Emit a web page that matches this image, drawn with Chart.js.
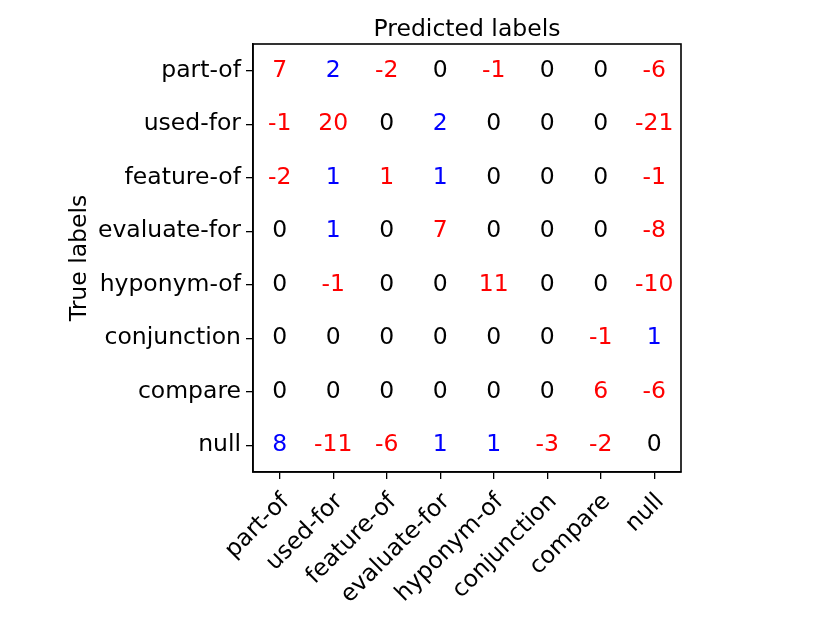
<!DOCTYPE html>
<html>
<head>
<meta charset="utf-8">
<script src="https://cdn.jsdelivr.net/npm/chart.js@4"></script>
<style>
  html, body { margin: 0; padding: 0; background: #fff; }
  #wrap { width: 830px; height: 623px; }
</style>
</head>
<body>
<div id="wrap"><canvas id="chart" width="830" height="623"></canvas></div>
<script>
// relation labels (same order on both axes)
const labels = ['part-of', 'used-for', 'feature-of', 'evaluate-for', 'hyponym-of', 'conjunction', 'compare', 'null'];

// one row per true label, columns = predicted label
const rowPartOf      = [7, 2, -2, 0, -1, 0, 0, -6];
const rowUsedFor     = [-1, 20, 0, 2, 0, 0, 0, -21];
const rowFeatureOf   = [-2, 1, 1, 1, 0, 0, 0, -1];
const rowEvaluateFor = [0, 1, 0, 7, 0, 0, 0, -8];
const rowHyponymOf   = [0, -1, 0, 0, 11, 0, 0, -10];
const rowConjunction = [0, 0, 0, 0, 0, 0, -1, 1];
const rowCompare     = [0, 0, 0, 0, 0, 0, 6, -6];
const rowNull        = [8, -11, -6, 1, 1, -3, -2, 0];

const matrix = [rowPartOf, rowUsedFor, rowFeatureOf, rowEvaluateFor, rowHyponymOf, rowConjunction, rowCompare, rowNull];

const FONT = 'DejaVu Sans';
const FS = 23.5;

// build points from the matrix
const cells = [];
matrix.forEach((row, r) => {
    row.forEach((v, c) => {
        cells.push({ x: c, y: r, v: v });
    });
});

function cellColor(p) {
    if (p.v === 0) return '#000000';
    if (p.v < 0 || p.x === p.y) return '#ff0000';
    return '#0000ff';
}

// draws the numbers in each cell + the frame
const cellText = {
    id: 'cellText',
    afterDatasetsDraw(chart) {
        const ctx = chart.ctx;
        const xs = chart.scales.x;
        const ys = chart.scales.y;
        ctx.save();
        ctx.font = FS + 'px "' + FONT + '"';
        ctx.textAlign = 'center';
        ctx.textBaseline = 'middle';
        chart.data.datasets[0].data.forEach(p => {
            ctx.fillStyle = cellColor(p);
            ctx.fillText(String(p.v), xs.getPixelForValue(p.x), ys.getPixelForValue(p.y));
        });
        const a = chart.chartArea;
        ctx.strokeStyle = '#000';
        ctx.lineWidth = 1.6;
        ctx.strokeRect(a.left, a.top, a.right - a.left, a.bottom - a.top);
        ctx.restore();
    }
};

const tickList = labels.map((_, i) => ({ value: i }));

new Chart(document.getElementById('chart'), {
    type: 'scatter',
    data: {
        datasets: [{
            data: cells,
            pointRadius: 0,
            pointHoverRadius: 0,
            showLine: false
        }]
    },
    options: {
        responsive: false,
        animation: false,
        events: [],
        layout: { padding: { left: 0, right: 149, top: 0, bottom: 0 } },
        plugins: {
            legend: { display: false },
            tooltip: { enabled: false }
        },
        scales: {
            x: {
                type: 'linear',
                position: 'bottom',
                min: -0.5,
                max: 7.5,
                afterBuildTicks: s => { s.ticks = tickList.map(t => ({ ...t })); },
                afterFit: s => { s.height = 151; },
                grid: { drawOnChartArea: false, drawTicks: true, tickLength: 7, color: '#000', lineWidth: 1.3 },
                border: { display: true, color: '#000', width: 1.6 },
                ticks: {
                    autoSkip: false,
                    minRotation: 45,
                    maxRotation: 45,
                    padding: 9,
                    labelOffset: 6,
                    color: '#000',
                    font: { family: FONT, size: FS },
                    callback: v => labels[v]
                }
            },
            x2: {
                type: 'linear',
                axis: 'x',
                position: 'top',
                min: -0.5,
                max: 7.5,
                afterFit: s => { s.height = 44; },
                grid: { display: false },
                border: { display: false },
                ticks: { display: false },
                title: {
                    display: true,
                    text: 'Predicted labels',
                    color: '#000',
                    font: { family: FONT, size: FS },
                    padding: { top: 16, bottom: 0 }
                }
            },
            y: {
                type: 'linear',
                position: 'left',
                reverse: true,
                min: -0.5,
                max: 7.5,
                afterBuildTicks: s => { s.ticks = tickList.map(t => ({ ...t })); },
                afterFit: s => { s.width = 253; },
                grid: { drawOnChartArea: false, drawTicks: true, tickLength: 7, color: '#000', lineWidth: 1.3 },
                border: { display: true, color: '#000', width: 1.6 },
                ticks: {
                    autoSkip: false,
                    padding: 5,
                    color: '#000',
                    font: { family: FONT, size: FS },
                    callback: v => labels[v]
                },
                title: {
                    display: true,
                    text: 'True labels',
                    color: '#000',
                    font: { family: FONT, size: FS },
                    padding: { top: 66, bottom: 0 }
                }
            }
        }
    },
    plugins: [cellText]
});
</script>
</body>
</html>
